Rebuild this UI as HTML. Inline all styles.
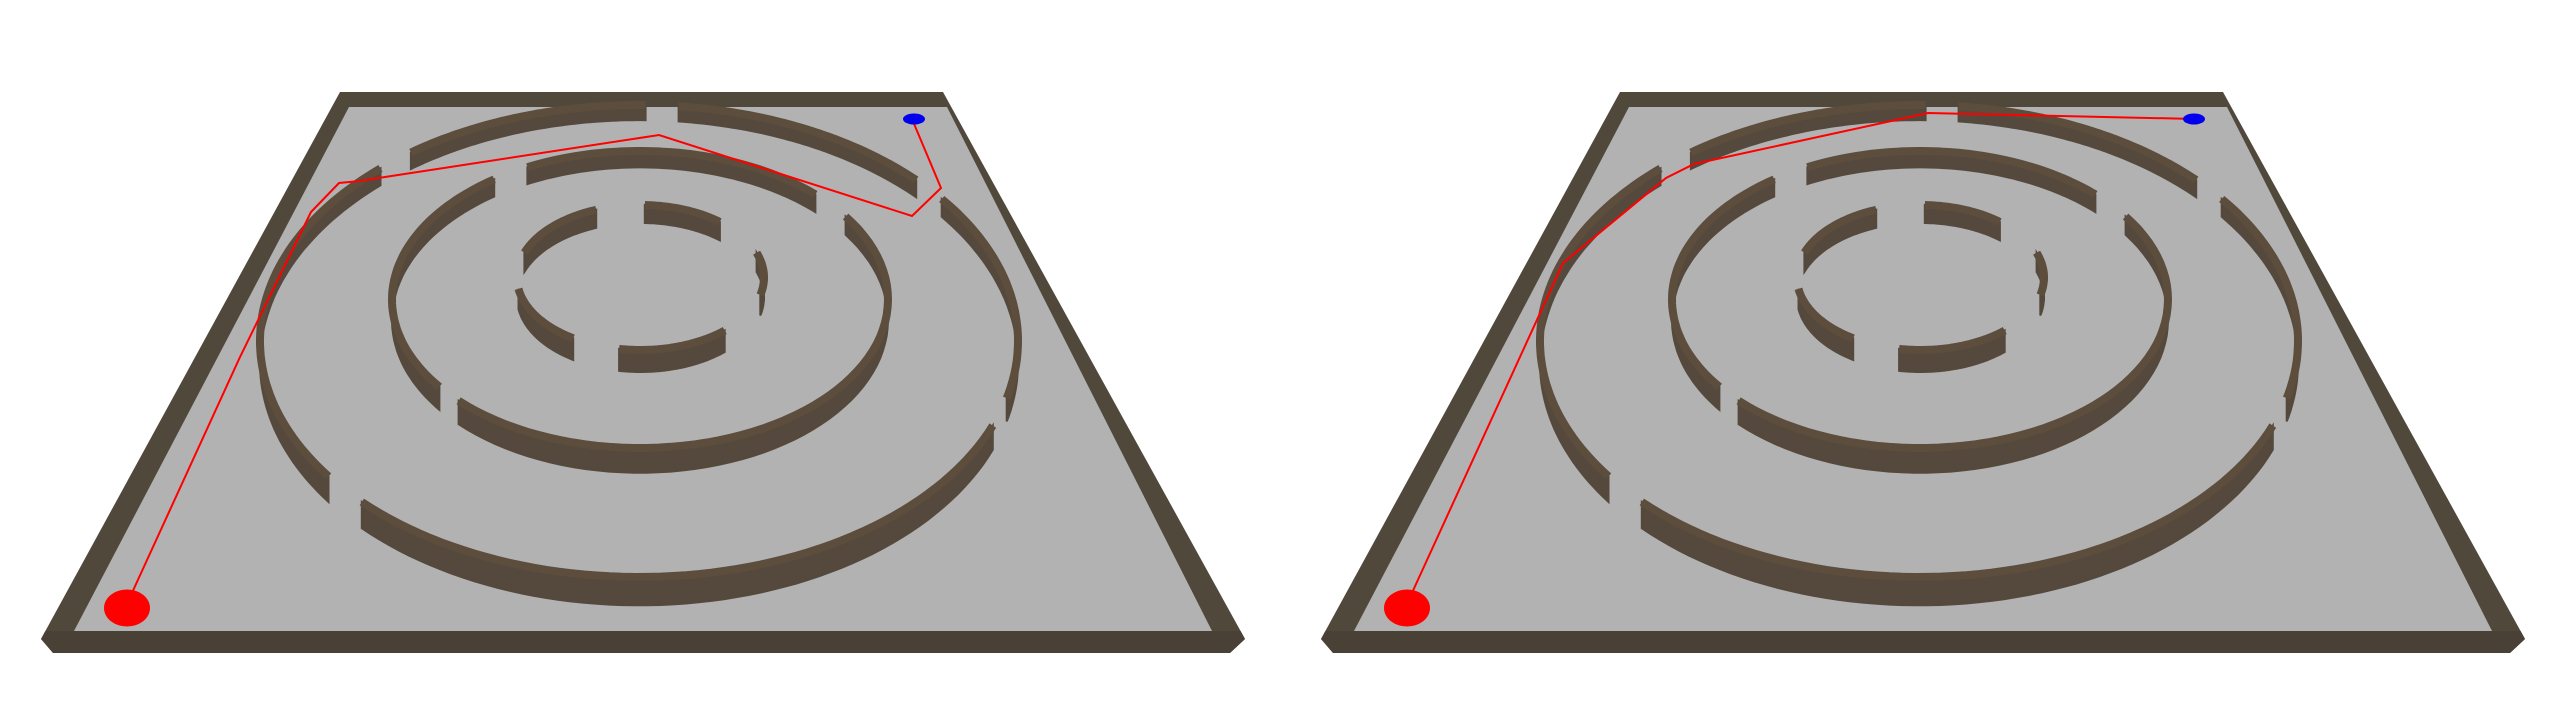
<!DOCTYPE html>
<html><head><meta charset="utf-8"><style>
html,body{margin:0;padding:0;background:#fff;width:2560px;height:720px;overflow:hidden}
svg{position:absolute;top:0}
</style></head><body>
<svg id="left" style="left:0" width="1280" height="720" viewBox="0 0 1280 720"></svg>
<svg id="right" style="left:1280px" width="1280" height="720" viewBox="0 0 1280 720"></svg>
<script>
const ringCenters=[[640.5,277.5],[640,299.5],[639,341]];
const ringRadii=[[123.5,72.5],[248,148.5],[379,236]];
const ringSegments=[
 [[200,249],[272,310],[340,374],[47,100],[123,171]],
 [[243,315],[144,234],[326,497]],
 [[233,271],[276,317],[323,374],[21,137],[145,227]]
];
const pathLeft=[[912,119],[941,188],[912,216],[659,135],[385,177],[360,181],[339,183],[311,212],[240,357],[131,595]];
const pathRight=[[916,119],[648,113],[414,164],[386,178],[283,263],[131,595]];
const NS='http://www.w3.org/2000/svg';
function mk(t,a,p){const e=document.createElementNS(NS,t);for(const k in a)e.setAttribute(k,a[k]);p.appendChild(e);return e;}
function arcPts(cx,cy,rx,ry,a0,a1){const pts=[];const n=60;for(let i=0;i<=n;i++){const a=(a0+(a1-a0)*i/n)*Math.PI/180;pts.push([cx+rx*Math.cos(a),cy+ry*Math.sin(a)]);}return pts;}
function toD(pts){return pts.map((p,i)=>(i?'L':'M')+p[0].toFixed(1)+','+p[1].toFixed(1)).join('');}
function wallH(y){return 15+(y-100)*0.028;}
function draw(svg,path){
 const outer=mk('polygon',{points:'340,92 943,92 1245,639 1230,653 53,653 41,639',fill:'#51483c'},svg);
 
 
 const front=mk('polygon',{points:'45.4,631 1240.6,631 1245,639 1230,653 53,653 41,639',fill:'#4a4136'},svg);
 
 
 const floor=mk('polygon',{points:'349,107 947,107 1212,631 74,631',fill:'#b2b2b2'},svg);
 
 
 ringSegments.forEach((segs,r)=>{
  const [cx,cy]=ringCenters[r],[rx,ry]=ringRadii[r];
  segs.forEach(([a0,a1])=>{
   const top=arcPts(cx,cy,rx,ry,a0,a1);
   const bot=top.map(p=>[p[0],p[1]+wallH(p[1])]).reverse();
   const side=mk('path',{d:toD(top.concat(bot))+'Z',fill:'#54493c',stroke:'#54493c','stroke-width':2},svg);
   
   
   const tp=mk('path',{d:toD(top),fill:'none',stroke:'#5c4d3d','stroke-width':8},svg);
   
   
  });
 });
 const pl=mk('polyline',{points:path.map(p=>p.join(',')).join(' '),fill:'none',stroke:'#ff0000','stroke-width':2},svg);
 
 
 const s=mk('ellipse',{cx:127,cy:608,rx:23,ry:18.5,fill:'#ff0000'},svg);
 
 
 const g=mk('ellipse',{cx:914,cy:119,rx:11,ry:5.5,fill:'#0000ee'},svg);
 
 
}
draw(document.getElementById('left'),pathLeft);
draw(document.getElementById('right'),pathRight);
</script>
</body></html>
